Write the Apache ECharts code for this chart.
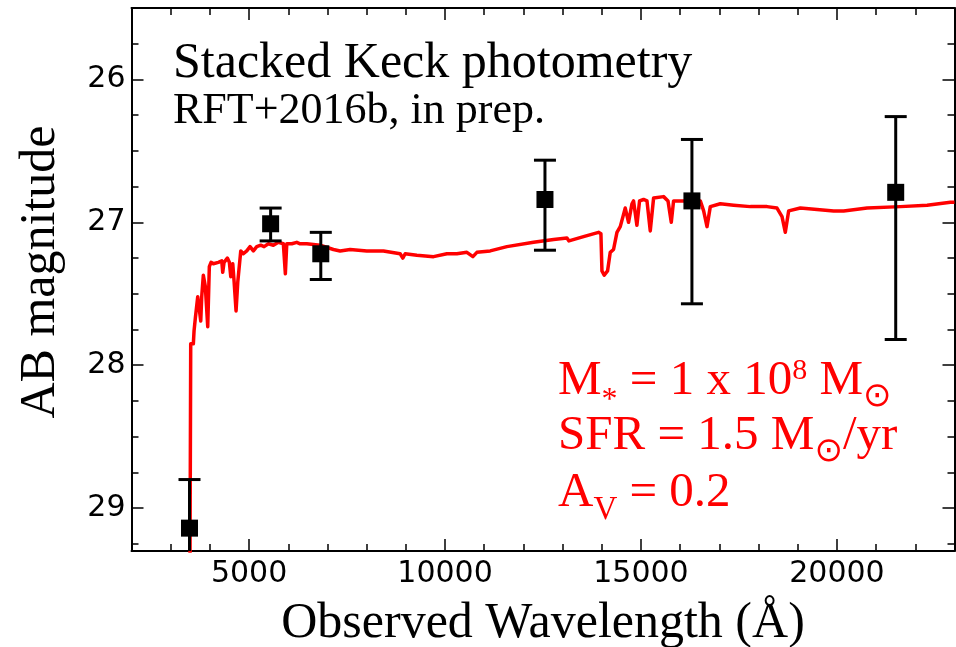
<!DOCTYPE html>
<html>
<head>
<meta charset="utf-8">
<script src="https://cdn.jsdelivr.net/npm/echarts@6/dist/echarts.min.js"></script>
<style>
  html, body { margin: 0; padding: 0; background: #ffffff; }
  #chart { width: 956px; height: 647px; }
</style>
</head>
<body>
<div id="chart"></div>
<script>
// Model SED (observed wavelength in Angstrom, AB magnitude)
const specWave = [3490, 3511, 3578, 3596, 3629, 3690, 3731, 3767, 3792, 3833, 3884, 3945, 3986, 4030,
  4088, 4216, 4303, 4328, 4362, 4446, 4497, 4533, 4584, 4617, 4668, 4711, 4752, 4788, 4854, 4941,
  5025, 5110, 5196, 5298, 5383, 5493, 5620, 5748, 5875, 5926, 5962, 6090, 6217, 6302, 6473, 6812,
  7152, 7323, 7578, 8004, 8429, 8855, 8923, 8983, 9281, 9707, 10047, 10302, 10558, 10711, 10813,
  11153, 11579, 12260, 12771, 13111, 13162, 13213, 13534, 13917, 13978, 14004, 14062, 14147, 14216,
  14300, 14387, 14471, 14540, 14599, 14683, 14770, 14811, 14896, 14964, 15066, 15153, 15237, 15322,
  15577, 15690, 15773, 15832, 16088, 16514, 16599, 16685, 16769, 17024, 17364, 17790, 18216, 18471,
  18599, 18683, 18768, 19067, 19493, 19917, 20172, 20770, 21620, 22301, 22896, 23000];
const specMag = [29.60, 27.85, 27.85, 27.76, 27.67, 27.52, 27.51, 27.69, 27.52, 27.37, 27.45, 27.73, 27.31, 27.28,
  27.29, 27.28, 27.27, 27.35, 27.28, 27.25, 27.28, 27.38, 27.29, 27.41, 27.62, 27.42, 27.41, 27.20, 27.22, 27.20,
  27.17, 27.20, 27.17, 27.16, 27.17, 27.15, 27.16, 27.14, 27.15, 27.36, 27.15, 27.15, 27.14, 27.15, 27.15, 27.16,
  27.19, 27.20, 27.19, 27.20, 27.20, 27.22, 27.25, 27.22, 27.23, 27.24, 27.22, 27.22, 27.21, 27.24, 27.21,
  27.20, 27.17, 27.14, 27.12, 27.11, 27.13, 27.12, 27.10, 27.07, 27.08, 27.34, 27.37, 27.34, 27.21,
  27.19, 27.07, 27.03, 26.96, 26.90, 27.00, 26.87, 26.85, 27.02, 26.85, 26.84, 26.85, 27.06, 26.83,
  26.82, 26.85, 27.00, 26.85, 26.85, 26.85, 26.92, 27.03, 26.89, 26.87, 26.88, 26.89, 26.89, 26.90,
  26.96, 27.07, 26.92, 26.90, 26.91, 26.92, 26.92, 26.90, 26.89, 26.88, 26.86, 26.86];

// Stacked photometry: centre, bright end and faint end of each error bar
const photWave = [3480, 5550, 6830, 12550, 16300, 21500];
const photMag = [29.14, 27.01, 27.22, 26.84, 26.85, 26.79];
const photBright = [28.80, 26.90, 27.07, 26.565, 26.42, 26.26];
const photFaint = [29.48, 27.13, 27.40, 27.195, 27.57, 27.82];

// Axis ranges and tick values
const X_MIN = 2000, X_MAX = 23000, X_MINOR = 1000;
const Y_MIN = 25.5, Y_MAX = 29.3, Y_MINOR = 0.25;
const xMajorTicks = [5000, 10000, 15000, 20000];
const yMajorTicks = [26, 27, 28, 29];

const SERIF = '"Liberation Serif", "Times New Roman", serif';
const SANS = '"DejaVu Sans", sans-serif';
const RED = '#ff0000';

const chart = echarts.init(document.getElementById('chart'), null, { renderer: 'canvas' });

const tickStyle = { color: '#000', width: 1.5 };
const lineStyle = { color: '#000', width: 2 };

function xAxisDef(position, major, labels) {
  return {
    type: 'value', position: position, min: X_MIN, max: X_MAX, interval: X_MINOR,
    splitLine: { show: false },
    axisLine: { show: !major, onZero: false, lineStyle: lineStyle },
    axisTick: major
      ? { show: true, inside: true, length: 12, customValues: xMajorTicks, lineStyle: tickStyle }
      : { show: true, inside: true, length: 7, lineStyle: tickStyle },
    axisLabel: labels
      ? { show: true, customValues: xMajorTicks, formatter: v => String(v),
          fontFamily: SANS, fontSize: 30, color: '#000', margin: 8 }
      : { show: false }
  };
}
function yAxisDef(position, major, labels) {
  return {
    type: 'value', position: position, min: Y_MIN, max: Y_MAX, interval: Y_MINOR, inverse: true,
    splitLine: { show: false },
    axisLine: { show: !major, onZero: false, lineStyle: lineStyle },
    axisTick: major
      ? { show: true, inside: true, length: 12, customValues: yMajorTicks, lineStyle: tickStyle }
      : { show: true, inside: true, length: 7, lineStyle: tickStyle },
    axisLabel: labels
      ? { show: true, customValues: yMajorTicks, formatter: v => String(v),
          fontFamily: SANS, fontSize: 30, color: '#000', margin: 6 }
      : { show: false }
  };
}

// Lay out a run of text pieces along one baseline (for sub/superscripts)
const measureCtx = document.createElement('canvas').getContext('2d');
function textRun(x0, baseline, pieces, color) {
  let x = x0;
  const out = [];
  for (const p of pieces) {
    const fam = p.family || SERIF;
    const font = p.size + 'px ' + fam;
    measureCtx.font = font;
    const w = measureCtx.measureText(p.t).width;
    out.push({
      type: 'text', z: 100,
      x: x, y: baseline + (p.dy || 0) - 0.34 * p.size,
      style: { text: p.t, font: font, fill: color, textAlign: 'left', align: 'left',
               textVerticalAlign: 'middle', verticalAlign: 'middle' }
    });
    x += w + (p.gap || 0);
  }
  return out;
}

const BIG = 49;
const graphics = [].concat(
  textRun(173, 81, [{ t: 'Stacked Keck photometry', size: 50 }], '#000'),
  textRun(173, 126, [{ t: 'RFT+2016b, in prep.', size: 44 }], '#000'),
  textRun(558, 398, [
    { t: 'M', size: BIG },
    { t: '*', size: 32, dy: 13 },
    { t: ' = 1 x 10', size: BIG },
    { t: '8', size: 30, dy: -17 },
    { t: ' M', size: BIG },
    { t: '\u2299', size: 34, dy: 11, family: SANS }
  ], RED),
  textRun(558, 453, [
    { t: 'SFR = 1.5 M', size: BIG },
    { t: '\u2299', size: 34, dy: 11, family: SANS },
    { t: '/yr', size: BIG }
  ], RED),
  textRun(558, 510, [
    { t: 'A', size: BIG },
    { t: 'V', size: 33, dy: 12 },
    { t: ' = 0.2', size: BIG }
  ], RED),
  [
    {
      type: 'text', z: 100, x: 543, y: 624,
      style: { text: 'Observed Wavelength (\u00c5)', font: '50px ' + SERIF, fill: '#000',
               textAlign: 'center', align: 'center', textVerticalAlign: 'middle', verticalAlign: 'middle' }
    },
    {
      type: 'text', z: 100, x: 41, y: 272, rotation: Math.PI / 2,
      style: { text: 'AB magnitude', font: '50px ' + SERIF, fill: '#000',
               textAlign: 'center', align: 'center', textVerticalAlign: 'middle', verticalAlign: 'middle' }
    }
  ]
);

const option = {
  animation: false,
  backgroundColor: '#ffffff',
  grid: { left: 131.5, right: 1.5, top: 8, bottom: 96, containLabel: false },
  xAxis: [
    xAxisDef('bottom', false, true),
    xAxisDef('bottom', true, false),
    xAxisDef('top', false, false),
    xAxisDef('top', true, false)
  ],
  yAxis: [
    yAxisDef('left', false, true),
    yAxisDef('left', true, false),
    yAxisDef('right', false, false),
    yAxisDef('right', true, false)
  ],
  series: [
    {
      name: 'model', type: 'line', xAxisIndex: 0, yAxisIndex: 0, z: 2,
      data: specWave.map((w, i) => [w, specMag[i]]),
      showSymbol: false, symbol: 'none', clip: true,
      lineStyle: { color: RED, width: 3.5, join: 'round' }
    },
    {
      name: 'errors', type: 'custom', xAxisIndex: 0, yAxisIndex: 0, z: 3,
      data: photWave.map((w, i) => [w, photBright[i], photFaint[i]]),
      renderItem: function (params, api) {
        const cs = params.coordSys;
        const top = api.coord([api.value(0), api.value(1)]);
        const bot = api.coord([api.value(0), api.value(2)]);
        const yTop = Math.max(top[1], cs.y);
        const yBot = Math.min(bot[1], cs.y + cs.height);
        const x = top[0];
        const st = { stroke: '#000', lineWidth: 3, fill: null };
        const children = [{ type: 'line', shape: { x1: x, y1: yTop, x2: x, y2: yBot }, style: st }];
        if (top[1] >= cs.y) children.push({ type: 'line', shape: { x1: x - 11, y1: top[1], x2: x + 11, y2: top[1] }, style: st });
        if (bot[1] <= cs.y + cs.height) children.push({ type: 'line', shape: { x1: x - 11, y1: bot[1], x2: x + 11, y2: bot[1] }, style: st });
        return { type: 'group', children: children };
      }
    },
    {
      name: 'photometry', type: 'scatter', xAxisIndex: 0, yAxisIndex: 0, z: 4,
      data: photWave.map((w, i) => [w, photMag[i]]),
      symbol: 'rect', symbolSize: 17,
      itemStyle: { color: '#000', opacity: 1 }
    }
  ],
  graphic: graphics
};

chart.setOption(option);
</script>
</body>
</html>
